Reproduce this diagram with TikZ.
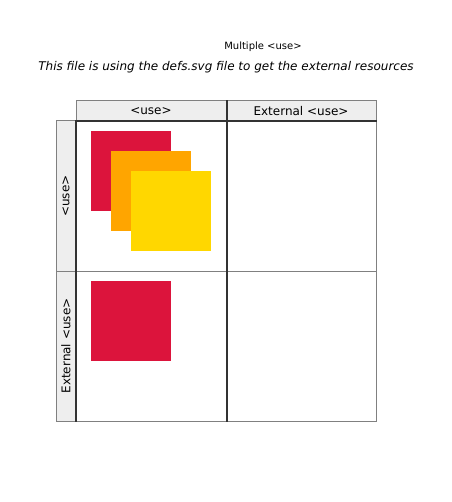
\documentclass[tikz,border=0pt]{standalone}
\usepackage{fontspec}
\setmainfont{DejaVu Sans}
\definecolor{cellgray}{RGB}{128,128,128}
\definecolor{headfill}{RGB}{238,238,238}
\definecolor{rulesdark}{RGB}{51,51,51}
\definecolor{sqcrimson}{RGB}{220,20,60}
\definecolor{sqorange}{RGB}{255,165,0}
\definecolor{sqgold}{RGB}{255,215,0}
\usetikzlibrary{positioning}

\begin{document}
\begin{tikzpicture}[x=0.75pt, y=-0.75pt,
  cellbox/.style={draw=cellgray, line width=0.75pt, inner sep=0pt,
    minimum width=112.5pt, minimum height=112.5pt},
  headcell/.style={draw=cellgray, fill=headfill, line width=0.75pt, inner sep=0pt,
    minimum width=112.5pt, minimum height=15pt, font=\fontsize{9}{11}\selectfont},
  rowcell/.style={headcell, rotate=90},
  usesquare/.style={inner sep=0pt, minimum size=60pt},
  darkrule/.style={rulesdark, line width=1.5pt}]
\useasboundingbox (0,0) rectangle (452,502);

% Titles
\node[anchor=base, font=\fontsize{7.5}{9}\selectfont] (title) at (263,50) {Multiple <use>};
\node[anchor=base, font=\fontsize{9}{11}\selectfont\itshape] (subtitle) at (226,71)
  {This file is using the defs.svg file to get the external resources};

% Grid cells
\node[cellbox] (c11) at (151,196) {};
\node[cellbox] (c12) at (301,196) {};
\node[cellbox] (c21) at (151,346) {};
\node[cellbox] (c22) at (301,346) {};

% Column headers
\node[headcell] (hUse) at (151,111) {<use>};
\node[headcell] (hExt) at (301,111) {External <use>};

% Row headers
\node[rowcell] (rUse) at (66,196) {<use>};
\node[rowcell] (rExt) at (66,346) {External <use>};

% Dark rules
\draw[darkrule] (hUse.south west) -- (hExt.south east);
\draw[darkrule] (c11.north west) -- (c21.south west);
\draw[darkrule] (hUse.north east) -- (c21.south east);

% Squares
\node[usesquare, fill=sqcrimson] (sqA) at (131,171) {};
\node[usesquare, fill=sqorange] (sqB) at (151,191) {};
\node[usesquare, fill=sqgold] (sqC) at (171,211) {};
\node[usesquare, fill=sqcrimson] (sqD) at (131,321) {};

\end{tikzpicture}
\end{document}
